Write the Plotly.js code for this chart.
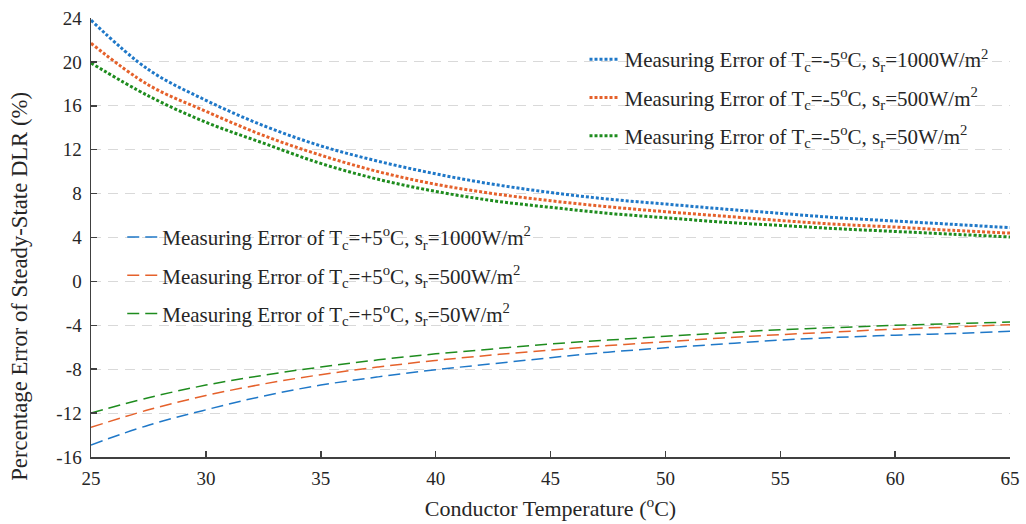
<!DOCTYPE html>
<html>
<head>
<meta charset="utf-8">
<script src="https://cdn.plot.ly/plotly-3.0.1.min.js"></script>
<style>body{margin:0;background:#fff}#chart{width:1026px;height:524px}</style>
</head>
<body>
<div id="chart"></div>
<script>
// Conductor temperature (°C)
const temps = [25, 27.5, 30, 32.5, 35, 37.5, 40, 42.5, 45, 47.5, 50, 52.5, 55, 57.5, 60, 62.5, 65];

// Measuring error Tc = -5°C
const minus5_1000 = [23.8, 19.3, 16.5, 14.2, 12.35, 10.95, 9.8, 8.85, 8.1, 7.5, 7.05, 6.6, 6.2, 5.8, 5.5, 5.2, 4.9];
const minus5_500  = [21.7, 17.9, 15.5, 13.3, 11.5, 10.0, 8.85, 8.0, 7.35, 6.8, 6.35, 5.95, 5.55, 5.2, 4.95, 4.65, 4.4];
const minus5_50   = [19.9, 16.9, 14.5, 12.6, 10.75, 9.3, 8.2, 7.35, 6.75, 6.2, 5.8, 5.4, 5.1, 4.8, 4.55, 4.3, 4.05];

// Measuring error Tc = +5°C
const plus5_1000 = [-14.9, -13.1, -11.7, -10.45, -9.45, -8.7, -8.05, -7.5, -6.95, -6.45, -6.05, -5.7, -5.35, -5.1, -4.9, -4.75, -4.55];
const plus5_500  = [-13.3, -11.7, -10.4, -9.35, -8.5, -7.8, -7.2, -6.7, -6.25, -5.85, -5.5, -5.15, -4.85, -4.6, -4.35, -4.15, -3.95];
const plus5_50   = [-12.0, -10.6, -9.45, -8.55, -7.8, -7.15, -6.6, -6.15, -5.7, -5.35, -5.0, -4.7, -4.4, -4.2, -4.0, -3.85, -3.7];

// Tick labels
const yTickVals = [-16, -12, -8, -4, 0, 4, 8, 12, 16, 20, 24];
const yTickText = ['-16', '-12', '-8', '-4', '0', '4', '8', '12', '16', '20', '24'];
const xTickVals = [25, 30, 35, 40, 45, 50, 55, 60, 65];
const xTickText = ['25', '30', '35', '40', '45', '50', '55', '60', '65'];

const names = [
  'Measuring Error of T<sub>c</sub>=-5<sup>o</sup>C, s<sub>r</sub>=1000W/m<sup>2</sup>',
  'Measuring Error of T<sub>c</sub>=-5<sup>o</sup>C, s<sub>r</sub>=500W/m<sup>2</sup>',
  'Measuring Error of T<sub>c</sub>=-5<sup>o</sup>C, s<sub>r</sub>=50W/m<sup>2</sup>',
  'Measuring Error of T<sub>c</sub>=+5<sup>o</sup>C, s<sub>r</sub>=1000W/m<sup>2</sup>',
  'Measuring Error of T<sub>c</sub>=+5<sup>o</sup>C, s<sub>r</sub>=500W/m<sup>2</sup>',
  'Measuring Error of T<sub>c</sub>=+5<sup>o</sup>C, s<sub>r</sub>=50W/m<sup>2</sup>'
];
const xTitle = 'Conductor Temperature (<sup>o</sup>C)';
const yTitle = 'Percentage Error of Steady-State DLR (%)';

const colors = ['#1f78c8', '#e5612b', '#1e8c1e'];
const series = [minus5_1000, minus5_500, minus5_50, plus5_1000, plus5_500, plus5_50];

const traces = series.map((ys, i) => {
  const upper = i < 3;
  return {
    x: temps, y: ys, type: 'scatter', mode: 'lines',
    name: names[i],
    legend: upper ? 'legend' : 'legend2',
    legendgroup: 'g' + i,
    line: {
      color: colors[i % 3],
      width: upper ? 3 : 1.5,
      dash: upper ? '3px,2px' : '12px,6px',
      shape: 'spline', smoothing: 1
    }
  };
});

const FAM = 'Liberation Serif';
const f = (size) => ({family: FAM, size: size, color: '#262626'});

const layout = {
  width: 1026, height: 524,
  margin: {l: 91, r: 16, t: 18, b: 67},
  paper_bgcolor: '#fff', plot_bgcolor: '#fff',
  font: f(19),
  showlegend: true,
  xaxis: {
    range: [25, 65], tickmode: 'array', tickvals: xTickVals, ticktext: xTickText,
    showline: true, linecolor: '#404040', linewidth: 1.5,
    ticks: 'inside', ticklen: 6, tickcolor: '#404040', tickwidth: 1.5,
    ticklabelstandoff: 4,
    showgrid: false, zeroline: false,
    tickfont: f(19),
    title: {text: xTitle, font: f(22), standoff: 12}
  },
  yaxis: {
    range: [-16, 24], tickmode: 'array', tickvals: yTickVals, ticktext: yTickText,
    showline: true, linecolor: '#404040', linewidth: 1.5,
    ticks: 'inside', ticklen: 6, tickcolor: '#404040', tickwidth: 1.5,
    ticklabelstandoff: 4,
    showgrid: true, gridcolor: '#d9d9d9', gridwidth: 1, griddash: '10px,7px',
    zeroline: false,
    tickfont: f(19)
  },
  annotations: [{
    text: yTitle, textangle: -90, showarrow: false,
    xref: 'paper', yref: 'paper', x: -0.0773, y: 0.39,
    xanchor: 'center', yanchor: 'middle',
    font: f(22.7)
  }],
  legend: {
    x: 0.537, y: 0.952, xanchor: 'left', yanchor: 'top',
    bgcolor: 'rgba(0,0,0,0)', borderwidth: 0,
    font: f(21),
    tracegroupgap: 8, itemwidth: 30
  },
  legend2: {
    x: 0.034, y: 0.547, xanchor: 'left', yanchor: 'top',
    bgcolor: 'rgba(0,0,0,0)', borderwidth: 0,
    font: f(21),
    tracegroupgap: 8, itemwidth: 30
  }
};

Plotly.newPlot('chart', traces, layout, {displayModeBar: false, staticPlot: true});
</script>
</body>
</html>
